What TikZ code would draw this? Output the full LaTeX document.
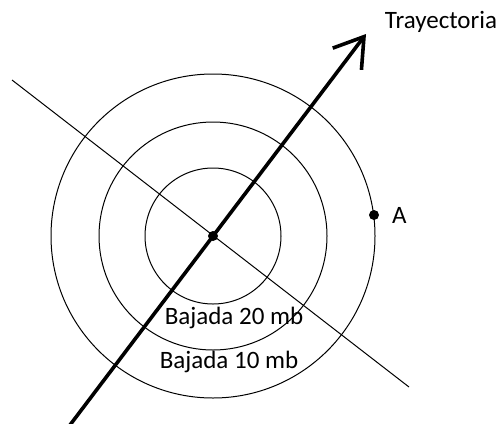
\documentclass[tikz,border=0pt]{standalone}
\usepackage{fontspec}
\setmainfont{Carlito}
\usetikzlibrary{arrows.meta}
\begin{document}
\begin{tikzpicture}[x=1pt,y=-1pt,
  ring/.style={draw=black,line width=1pt},
  thinline/.style={draw=black,line width=1pt},
  traj/.style={draw=black,line width=3.6pt,-{Straight Barb[length=28pt,width=36pt,line width=3.6pt]}},
  lbl/.style={font=\fontsize{25}{28}\selectfont,text=black,inner sep=0pt},
  dot/.style={circle,fill=black,inner sep=0pt,minimum size=10pt}]
\useasboundingbox (0,0) rectangle (502,423);
\coordinate (C) at (213,236);
\draw[ring] (C) circle[radius=68];
\draw[ring] (C) circle[radius=114];
\draw[ring] (C) circle[radius=162];
\coordinate (L1) at (12,80);
\coordinate (L2) at (409,387);
\draw[thinline] (L1) -- (L2);
\coordinate (T0) at (70,425);
\coordinate (T1) at (366,34);
\draw[traj] (T0) -- (T1);
\node[dot] (cen) at (C) {};
\node[dot] (A) at (374,215) {};
\node[lbl,anchor=west] (Alab) at (392,215) {A};
\node[lbl] (tr) at (441,22) {Trayectoria};
\node[lbl] (b20) at (234,318) {Bajada 20 mb};
\node[lbl] (b10) at (229,362) {Bajada 10 mb};
\end{tikzpicture}
\end{document}
